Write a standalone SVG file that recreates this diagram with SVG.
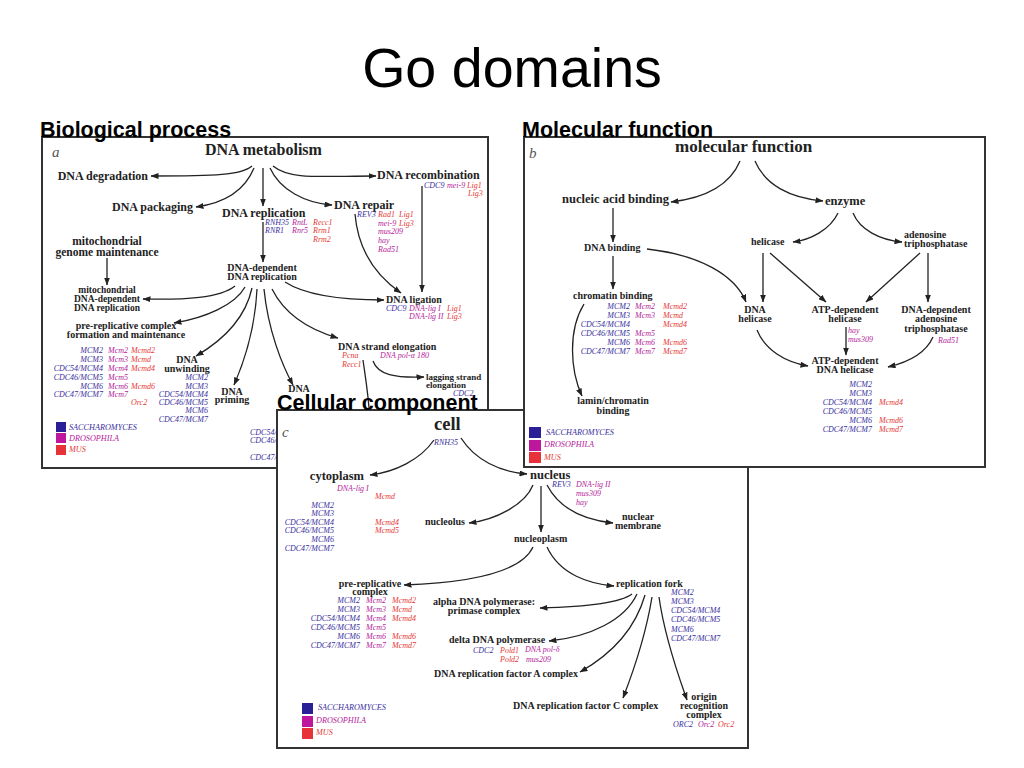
<svg xmlns="http://www.w3.org/2000/svg" width="1024" height="768" viewBox="0 0 1024 768">
<defs>
<marker id="ah" markerWidth="8" markerHeight="6" refX="7.5" refY="3" orient="auto" markerUnits="userSpaceOnUse">
<path d="M0,0 L8,3 L0,6 Z" fill="#222"/>
</marker>
<style>
.panel{fill:#fff;stroke:#333;stroke-width:2}
.conn path{fill:none;stroke:#222;stroke-width:1.3;marker-end:url(#ah)}
text{font-family:"Liberation Serif","Times New Roman",serif}
.hd{font-family:"Liberation Sans",Arial,sans-serif;font-weight:bold;font-size:21.5px;fill:#000}
.ttl{font-family:"Liberation Sans",Arial,sans-serif;font-size:55.6px;fill:#000}
.L{font-weight:bold;font-size:16px;fill:#222}
.M{font-weight:bold;font-size:12px;fill:#222}
.S{font-weight:bold;font-size:10px;fill:#222}
.X{font-weight:bold;font-size:9px;fill:#222}
.pl{font-style:italic;font-size:15px;fill:#555}
.g{font-style:italic;font-size:8px}
.b{fill:#3a2f9c}
.m{fill:#b31c9a}
.r{fill:#e53935}
.lg{font-style:italic;font-size:8.2px}
.c{text-anchor:middle}
.e{text-anchor:end}
</style>
</defs>
<rect width="1024" height="768" fill="#fff"/>
<text class="ttl c" x="512" y="87">Go domains</text>

<!-- Panel a -->
<g id="panel-a">
<rect class="panel" x="42" y="137" width="446" height="331"/>
<text class="pl" x="52" y="157">a</text>
<g id="a-metabolism"><text class="L" x="205" y="155">DNA metabolism</text></g>
<g id="a-degradation"><text class="M e" x="148" y="180">DNA degradation</text></g>
<g id="a-packaging"><text class="M e" x="193" y="211">DNA packaging</text></g>
<g id="a-replication"><text class="M" x="222" y="217">DNA replication</text>
<text class="g b" x="265" y="225">RNH35</text><text class="g b" x="265" y="233">RNR1</text>
<text class="g m" x="292" y="225">RntL</text><text class="g m" x="292" y="233">Rnr5</text>
<text class="g r" x="313" y="225">Recc1</text><text class="g r" x="313" y="233">Rrm1</text><text class="g r" x="313" y="242">Rrm2</text></g>
<g id="a-repair"><text class="M" x="334" y="209">DNA repair</text>
<text class="g b" x="357" y="217">REV3</text><text class="g r" x="378" y="217">Rad1</text><text class="g r" x="399" y="217">Lig1</text>
<text class="g m" x="378" y="226">mei-9</text><text class="g r" x="399" y="226">Lig3</text>
<text class="g m" x="378" y="234">mus209</text><text class="g m" x="378" y="243">hay</text><text class="g m" x="378" y="252">Rad51</text></g>
<g id="a-recombination"><text class="M" x="377" y="179">DNA recombination</text>
<text class="g b" x="424" y="188">CDC9</text><text class="g m" x="447" y="188">mei-9</text><text class="g r" x="467" y="188">Lig1</text><text class="g r" x="468" y="196">Lig3</text></g>
<g id="a-mito"><text class="M c" x="107" y="245" style="font-size:11.5px">mitochondrial</text><text class="M c" x="107" y="256" style="font-size:11.5px">genome maintenance</text></g>
<g id="a-mito-rep"><text class="S c" x="107" y="293" style="font-size:9.5px">mitochondrial</text><text class="S c" x="107" y="302" style="font-size:9.5px">DNA-dependent</text><text class="S c" x="107" y="311" style="font-size:9.5px">DNA replication</text></g>
<g id="a-dd-rep"><text class="S c" x="262" y="271">DNA-dependent</text><text class="S c" x="262" y="280">DNA replication</text></g>
<g id="a-prerep"><text class="S c" x="126" y="329">pre-replicative complex</text><text class="S c" x="126" y="338">formation and maintenance</text>
<text class="g b e" x="103" y="353">MCM2</text><text class="g b e" x="103" y="362">MCM3</text><text class="g b e" x="103" y="371">CDC54/MCM4</text><text class="g b e" x="103" y="380">CDC46/MCM5</text><text class="g b e" x="103" y="389">MCM6</text><text class="g b e" x="103" y="397">CDC47/MCM7</text>
<text class="g m" x="108" y="353">Mcm2</text><text class="g m" x="108" y="362">Mcm3</text><text class="g m" x="108" y="371">Mcm4</text><text class="g m" x="108" y="380">Mcm5</text><text class="g m" x="108" y="389">Mcm6</text><text class="g m" x="108" y="397">Mcm7</text>
<text class="g r" x="131" y="353">Mcmd2</text><text class="g r" x="131" y="362">Mcmd</text><text class="g r" x="131" y="371">Mcmd4</text><text class="g r" x="131" y="389">Mcmd6</text><text class="g r" x="131" y="405">Orc2</text></g>
<g id="a-unwinding"><text class="S c" x="187" y="363">DNA</text><text class="S c" x="187" y="372">unwinding</text>
<text class="g b e" x="208" y="380">MCM2</text><text class="g b e" x="208" y="389">MCM3</text><text class="g b e" x="208" y="397">CDC54/MCM4</text><text class="g b e" x="208" y="405">CDC46/MCM5</text><text class="g b e" x="208" y="413">MCM6</text><text class="g b e" x="208" y="422">CDC47/MCM7</text></g>
<g id="a-priming"><text class="S c" x="232" y="395">DNA</text><text class="S c" x="232" y="403">priming</text></g>
<g id="a-dna-hidden"><text class="S c" x="299" y="392">DNA</text>
<text class="g b" x="250" y="435">CDC54/</text><text class="g b" x="250" y="443">CDC46/</text><text class="g b" x="250" y="460">CDC47/</text></g>
<g id="a-ligation"><text class="S" x="386" y="303">DNA ligation</text>
<text class="g b" x="386" y="311">CDC9</text><text class="g m" x="409" y="311">DNA-lig I</text><text class="g r" x="447" y="311">Lig1</text>
<text class="g m" x="409" y="319">DNA-lig II</text><text class="g r" x="447" y="319">Lig3</text></g>
<g id="a-strand"><text class="S" x="338" y="350">DNA strand elongation</text>
<text class="g r" x="342" y="358">Pcna</text><text class="g r" x="342" y="367">Recc1</text><text class="g m" x="380" y="358">DNA pol-α 180</text></g>
<g id="a-lagging"><text class="X" x="426" y="380">lagging strand</text><text class="X" x="426" y="388">elongation</text><text class="g b" x="453" y="396">CDC2</text></g>
<g id="a-legend">
<rect x="56" y="422" width="10" height="10" fill="#2a1f96"/><rect x="56" y="433" width="10" height="10" fill="#bf169e"/><rect x="56" y="445" width="10" height="10" fill="#e8323a"/>
<text class="lg b" x="69" y="430">SACCHAROMYCES</text><text class="lg m" x="69" y="441">DROSOPHILA</text><text class="lg r" x="69" y="452">MUS</text></g>
<g id="a-connectors" class="conn">
<path d="M252,166 C242,175 215,176 151,176"/>
<path d="M254,168 C245,190 225,203 196,207"/>
<path d="M263,168 L263,206"/>
<path d="M270,168 C280,190 305,203 332,205"/>
<path d="M273,166 C290,180 320,176 376,176"/>
<path d="M263,222 L263,262"/>
<path d="M422,186 L422,292"/>
<path d="M355,214 C358,250 375,275 401,293"/>
<path d="M107,258 L107,285"/>
<path d="M235,286 C220,298 185,300 143,299"/>
<path d="M245,287 C235,305 205,318 174,323"/>
<path d="M252,288 C245,320 220,342 196,356"/>
<path d="M257,289 C255,330 245,360 234,385"/>
<path d="M264,289 C268,330 282,365 293,385"/>
<path d="M272,289 C285,315 310,330 338,338"/>
<path d="M285,282 C305,295 340,300 384,300"/>
<path d="M373,361 C378,375 395,378 424,377"/>
<path d="M363,360 C365,375 368,390 370,420"/>
</g>
</g>
<text class="hd" x="40" y="137">Biological process</text>

<!-- Panel c -->
<g id="panel-c">
<rect class="panel" x="277" y="410" width="471" height="338"/>
<text class="pl" x="282" y="437">c</text>
<g id="c-cell"><text class="L" x="434" y="430" style="font-size:18.5px">cell</text><text class="g b" x="434" y="445">RNH35</text></g>
<g id="c-cytoplasm"><text class="M e" x="364" y="480" style="font-size:12.5px">cytoplasm</text>
<text class="g m" x="337" y="491">DNA-lig I</text><text class="g r" x="375" y="499">Mcmd</text>
<text class="g b e" x="334" y="508">MCM2</text><text class="g b e" x="334" y="516">MCM3</text><text class="g b e" x="334" y="525">CDC54/MCM4</text><text class="g b e" x="334" y="533">CDC46/MCM5</text><text class="g b e" x="334" y="542">MCM6</text><text class="g b e" x="334" y="551">CDC47/MCM7</text>
<text class="g r" x="375" y="525">Mcmd4</text><text class="g r" x="375" y="533">Mcmd5</text></g>
<g id="c-nucleus"><text class="M" x="530" y="479" style="font-size:12.5px">nucleus</text>
<text class="g b" x="552" y="487">REV3</text><text class="g m" x="576" y="487">DNA-lig II</text><text class="g m" x="576" y="496">mus309</text><text class="g m" x="576" y="505">hay</text></g>
<g id="c-nucleolus"><text class="S e" x="465" y="525">nucleolus</text></g>
<g id="c-nucleoplasm"><text class="S" x="514" y="542">nucleoplasm</text></g>
<g id="c-membrane"><text class="S c" x="638" y="520">nuclear</text><text class="S c" x="638" y="529">membrane</text></g>
<g id="c-prerep"><text class="S c" x="370" y="587">pre-replicative</text><text class="S c" x="370" y="595">complex</text>
<text class="g b e" x="360" y="603">MCM2</text><text class="g b e" x="360" y="612">MCM3</text><text class="g b e" x="360" y="621">CDC54/MCM4</text><text class="g b e" x="360" y="630">CDC46/MCM5</text><text class="g b e" x="360" y="639">MCM6</text><text class="g b e" x="360" y="648">CDC47/MCM7</text>
<text class="g m" x="366" y="603">Mcm2</text><text class="g m" x="366" y="612">Mcm3</text><text class="g m" x="366" y="621">Mcm4</text><text class="g m" x="366" y="630">Mcm5</text><text class="g m" x="366" y="639">Mcm6</text><text class="g m" x="366" y="648">Mcm7</text>
<text class="g r" x="392" y="603">Mcmd2</text><text class="g r" x="392" y="612">Mcmd</text><text class="g r" x="392" y="621">Mcmd4</text><text class="g r" x="392" y="639">Mcmd6</text><text class="g r" x="392" y="648">Mcmd7</text></g>
<g id="c-fork"><text class="S" x="616" y="587">replication fork</text>
<text class="g b" x="671" y="595">MCM2</text><text class="g b" x="671" y="604">MCM3</text><text class="g b" x="671" y="613">CDC54/MCM4</text><text class="g b" x="671" y="622">CDC46/MCM5</text><text class="g b" x="671" y="632">MCM6</text><text class="g b" x="671" y="641">CDC47/MCM7</text></g>
<g id="c-alpha"><text class="S c" x="484" y="605">alpha DNA polymerase:</text><text class="S c" x="484" y="614">primase complex</text></g>
<g id="c-delta"><text class="S" x="449" y="643">delta DNA polymerase</text>
<text class="g b" x="473" y="653">CDC2</text><text class="g r" x="500" y="653">Pold1</text><text class="g m" x="525" y="652">DNA pol-δ</text>
<text class="g r" x="500" y="662">Pold2</text><text class="g m" x="526" y="662">mus209</text></g>
<g id="c-factorA"><text class="S" x="434" y="677">DNA replication factor A complex</text></g>
<g id="c-factorC"><text class="S" x="513" y="709">DNA replication factor C complex</text></g>
<g id="c-origin"><text class="S c" x="704" y="700">origin</text><text class="S c" x="704" y="709">recognition</text><text class="S c" x="704" y="718">complex</text>
<text class="g b" x="673" y="727">ORC2</text><text class="g m" x="698" y="727">Orc2</text><text class="g r" x="718" y="727">Orc2</text></g>
<g id="c-legend">
<rect x="302" y="703" width="11" height="11" fill="#2a1f96"/><rect x="302" y="716" width="11" height="11" fill="#bf169e"/><rect x="302" y="728" width="11" height="11" fill="#e8323a"/>
<text class="lg b" x="318" y="710">SACCHAROMYCES</text><text class="lg m" x="316" y="723">DROSOPHILA</text><text class="lg r" x="316" y="735">MUS</text></g>
<g id="c-connectors" class="conn">
<path d="M434,440 C420,460 395,472 370,475"/>
<path d="M461,438 C475,460 500,472 527,474"/>
<path d="M533,485 C525,505 495,520 469,523"/>
<path d="M541,486 L541,532"/>
<path d="M547,485 C560,510 585,520 613,523"/>
<path d="M533,547 C520,575 460,583 404,585"/>
<path d="M547,547 C560,575 590,584 614,586"/>
<path d="M632,594 C620,603 580,607 540,608"/>
<path d="M637,594 C625,620 590,637 549,641"/>
<path d="M645,595 C635,630 610,655 580,672"/>
<path d="M652,597 C645,640 630,680 623,698"/>
<path d="M659,597 C665,640 680,680 687,700"/>
</g>
</g>
<text class="hd" x="277" y="410">Cellular component</text>

<!-- Panel b -->
<g id="panel-b">
<rect class="panel" x="524" y="137" width="461" height="330"/>
<text class="pl" x="529" y="158">b</text>
<g id="b-molfunc"><text class="L" x="675" y="152" style="font-size:17px">molecular function</text></g>
<g id="b-nucleic"><text class="M e" x="669" y="203" style="font-size:12.5px">nucleic acid binding</text></g>
<g id="b-enzyme"><text class="M" x="825" y="205" style="font-size:12.5px">enzyme</text></g>
<g id="b-dnabinding"><text class="S" x="584" y="251">DNA binding</text></g>
<g id="b-chromatin"><text class="S" x="573" y="299">chromatin binding</text>
<text class="g b e" x="630" y="309">MCM2</text><text class="g b e" x="630" y="318">MCM3</text><text class="g b e" x="630" y="327">CDC54/MCM4</text><text class="g b e" x="630" y="336">CDC46/MCM5</text><text class="g b e" x="630" y="345">MCM6</text><text class="g b e" x="630" y="354">CDC47/MCM7</text>
<text class="g m" x="635" y="309">Mcm2</text><text class="g m" x="635" y="318">Mcm3</text><text class="g m" x="635" y="336">Mcm5</text><text class="g m" x="635" y="345">Mcm6</text><text class="g m" x="635" y="354">Mcm7</text>
<text class="g r" x="663" y="309">Mcmd2</text><text class="g r" x="663" y="318">Mcmd</text><text class="g r" x="663" y="327">Mcmd4</text><text class="g r" x="663" y="345">Mcmd6</text><text class="g r" x="663" y="354">Mcmd7</text></g>
<g id="b-lamin"><text class="S c" x="613" y="404">lamin/chromatin</text><text class="S c" x="613" y="414">binding</text></g>
<g id="b-helicase"><text class="S" x="751" y="245">helicase</text></g>
<g id="b-atpase"><text class="S" x="904" y="238">adenosine</text><text class="S" x="904" y="247">triphosphatase</text></g>
<g id="b-dnahelicase"><text class="S c" x="755" y="313">DNA</text><text class="S c" x="755" y="322">helicase</text></g>
<g id="b-atphelicase"><text class="S c" x="845" y="313">ATP-dependent</text><text class="S c" x="845" y="322">helicase</text>
<text class="g m" x="848" y="333">hay</text><text class="g m" x="848" y="342">mus309</text></g>
<g id="b-dnaatpase"><text class="S c" x="936" y="313">DNA-dependent</text><text class="S c" x="936" y="322">adenosine</text><text class="S c" x="936" y="332">triphosphatase</text>
<text class="g m" x="938" y="343">Rad51</text></g>
<g id="b-atpdnahelicase"><text class="S c" x="845" y="364">ATP-dependent</text><text class="S c" x="845" y="373">DNA helicase</text>
<text class="g b e" x="872" y="387">MCM2</text><text class="g b e" x="872" y="396">MCM3</text><text class="g b e" x="872" y="405">CDC54/MCM4</text><text class="g b e" x="872" y="414">CDC46/MCM5</text><text class="g b e" x="872" y="423">MCM6</text><text class="g b e" x="872" y="432">CDC47/MCM7</text>
<text class="g r" x="879" y="405">Mcmd4</text><text class="g r" x="879" y="423">Mcmd6</text><text class="g r" x="879" y="432">Mcmd7</text></g>
<g id="b-legend">
<rect x="529" y="427" width="12" height="11" fill="#2a1f96"/><rect x="529" y="440" width="12" height="11" fill="#bf169e"/><rect x="529" y="452" width="12" height="11" fill="#e8323a"/>
<text class="lg b" x="546" y="435">SACCHAROMYCES</text><text class="lg m" x="544" y="447">DROSOPHILA</text><text class="lg r" x="544" y="460">MUS</text></g>
<g id="b-connectors" class="conn">
<path d="M740,161 C730,185 705,198 671,202"/>
<path d="M755,161 C765,185 790,198 823,201"/>
<path d="M613,208 L613,242"/>
<path d="M613,256 L613,289"/>
<path d="M647,249 C700,255 735,275 746,302"/>
<path d="M838,213 C830,230 810,240 793,242"/>
<path d="M853,213 C860,230 880,240 902,242"/>
<path d="M763,253 L763,302"/>
<path d="M770,253 L826,302"/>
<path d="M920,253 L866,302"/>
<path d="M928,253 L928,302"/>
<path d="M846,327 L846,355"/>
<path d="M757,330 C765,350 785,362 808,366"/>
<path d="M933,337 C925,355 905,363 888,367"/>
<path d="M584,304 C568,330 570,370 582,396"/>
</g>
</g>
<text class="hd" x="522" y="137">Molecular function</text>
</svg>
